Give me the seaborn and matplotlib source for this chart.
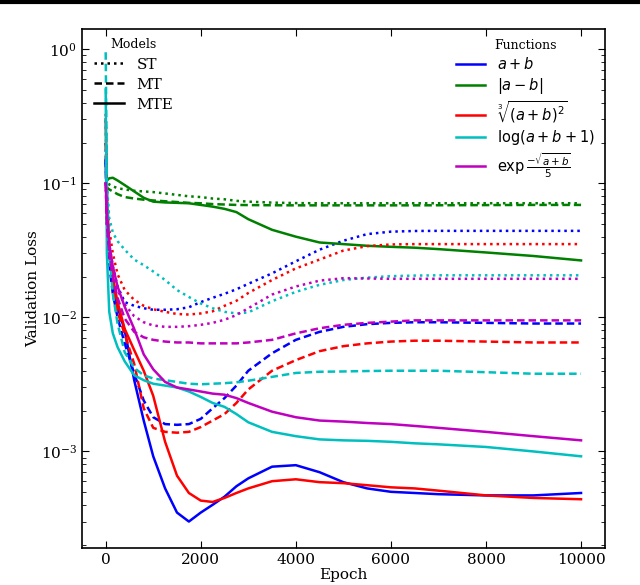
import numpy as np
import pandas as pd
import seaborn as sns
import matplotlib.pyplot as plt
from matplotlib.lines import Line2D
from matplotlib.font_manager import FontProperties

epochs = [0, 25, 75, 150, 250, 400, 600, 800, 1000, 1250, 1500, 1750, 2000, 2250,
          2500, 2750, 3000, 3500, 4000, 4500, 5000, 5500, 6000, 6500, 7000, 8000, 9000, 10000]

# a + b
add_st = [0.2, 0.06, 0.035, 0.024, 0.017, 0.013, 0.0122, 0.0117, 0.0114, 0.0114, 0.0115, 0.0119, 0.0130, 0.0140,
          0.0150, 0.0162, 0.0178, 0.0213, 0.0262, 0.0320, 0.0373, 0.0418, 0.0436, 0.0441, 0.0442, 0.0442, 0.0442, 0.0442]
add_mt = [0.15, 0.05, 0.025, 0.015, 0.010, 0.0064, 0.0038, 0.0024, 0.0018, 0.0016, 0.00158, 0.0016, 0.00175, 0.0021,
          0.0025, 0.0031, 0.0040, 0.0054, 0.0068, 0.0078, 0.0085, 0.0089, 0.0091, 0.0092, 0.0092, 0.0091, 0.0090, 0.0090]
add_mte = [0.15, 0.06, 0.03, 0.018, 0.012, 0.008, 0.0034, 0.0017, 0.00092, 0.00053, 0.00035, 0.0003, 0.00035, 0.0004,
           0.00046, 0.00055, 0.00063, 0.00077, 0.00079, 0.0007, 0.00059, 0.00053, 0.0005, 0.00049, 0.00048, 0.00047, 0.00047, 0.00049]

# |a - b|
sub_st = [0.1, 0.105, 0.098, 0.095, 0.092, 0.090, 0.088, 0.087, 0.086, 0.084, 0.082, 0.080, 0.079, 0.077,
          0.076, 0.074, 0.073, 0.0718, 0.0712, 0.071, 0.071, 0.071, 0.071, 0.071, 0.071, 0.071, 0.071, 0.071]
sub_mt = [0.095, 0.093, 0.090, 0.087, 0.083, 0.079, 0.077, 0.0755, 0.0745, 0.0735, 0.0725, 0.0715, 0.071, 0.070,
          0.0695, 0.069, 0.0688, 0.0686, 0.0685, 0.0685, 0.0685, 0.0685, 0.0685, 0.0685, 0.0686, 0.0688, 0.069, 0.069]
sub_mte = [0.1, 0.105, 0.109, 0.110, 0.105, 0.097, 0.087, 0.078, 0.073, 0.072, 0.0715, 0.071, 0.069, 0.067,
           0.0645, 0.061, 0.054, 0.045, 0.040, 0.0362, 0.0352, 0.0342, 0.0336, 0.0331, 0.0323, 0.0305, 0.0287, 0.0266]

# cube root of (a + b)^2
cbrt_st = [0.33, 0.09, 0.045, 0.030, 0.021, 0.016, 0.0135, 0.0122, 0.0115, 0.0110, 0.0106, 0.0105, 0.0107, 0.0111,
           0.0122, 0.0133, 0.0152, 0.0190, 0.0232, 0.0270, 0.0315, 0.0340, 0.0350, 0.0352, 0.0352, 0.0352, 0.0352, 0.0352]
cbrt_mt = [0.2, 0.06, 0.03, 0.018, 0.011, 0.0075, 0.0045, 0.0021, 0.0015, 0.0014, 0.00138, 0.0014, 0.00152, 0.0017,
           0.0019, 0.0023, 0.0029, 0.0040, 0.0048, 0.0056, 0.0061, 0.0064, 0.0066, 0.0067, 0.0067, 0.0066, 0.0065, 0.0065]
cbrt_mte = [0.3, 0.08, 0.035, 0.020, 0.013, 0.0082, 0.0057, 0.0040, 0.0026, 0.00118, 0.00066, 0.00049, 0.00043, 0.00042,
            0.00045, 0.00049, 0.00053, 0.0006, 0.00062, 0.00059, 0.00058, 0.00056, 0.00054, 0.00053, 0.00051, 0.00047, 0.00045, 0.00044]

# log(a + b + 1)
log_st = [0.3, 0.1, 0.055, 0.043, 0.037, 0.032, 0.027, 0.0245, 0.022, 0.019, 0.016, 0.0142, 0.0127, 0.0117,
          0.0110, 0.0107, 0.0109, 0.0132, 0.0155, 0.0175, 0.0190, 0.0198, 0.0203, 0.0205, 0.0206, 0.0206, 0.0206, 0.0206]
log_mt = [0.95, 0.1, 0.03, 0.015, 0.009, 0.0055, 0.0042, 0.0037, 0.0035, 0.0034, 0.0033, 0.0032, 0.00317, 0.0032,
          0.00323, 0.00328, 0.00337, 0.0036, 0.00385, 0.00393, 0.00395, 0.00398, 0.0040, 0.0040, 0.0040, 0.0039, 0.0038, 0.0038]
log_mte = [0.5, 0.03, 0.011, 0.0076, 0.006, 0.0047, 0.0037, 0.0034, 0.0032, 0.0031, 0.0030, 0.0028, 0.00255, 0.0023,
           0.00215, 0.0019, 0.00165, 0.0014, 0.0013, 0.00123, 0.00121, 0.0012, 0.00118, 0.00115, 0.00113, 0.00108, 0.0010, 0.00092]

# exp(-sqrt(a + b) / 5)
exp_st = [0.1, 0.05, 0.03, 0.022, 0.016, 0.0125, 0.0102, 0.0092, 0.0087, 0.0085, 0.0085, 0.0086, 0.0088, 0.0091,
          0.0096, 0.0104, 0.0117, 0.0148, 0.0170, 0.0188, 0.0196, 0.0195, 0.0194, 0.0194, 0.0194, 0.0194, 0.0194, 0.0194]
exp_mt = [0.1, 0.05, 0.03, 0.020, 0.014, 0.0098, 0.0078, 0.0071, 0.0068, 0.0066, 0.0065, 0.0065, 0.0064, 0.0064,
          0.0064, 0.0064, 0.0065, 0.0068, 0.0076, 0.0083, 0.0088, 0.0091, 0.0093, 0.0095, 0.0095, 0.0095, 0.0095, 0.0095]
exp_mte = [0.1, 0.06, 0.035, 0.024, 0.017, 0.012, 0.0082, 0.0053, 0.0041, 0.0033, 0.0030, 0.0029, 0.0028, 0.0027,
           0.00265, 0.0025, 0.0023, 0.00198, 0.0018, 0.0017, 0.00167, 0.00163, 0.0016, 0.00155, 0.0015, 0.0014, 0.0013, 0.00121]

functions = ['add', 'sub', 'cbrt', 'log', 'exp']
models = ['ST', 'MT', 'MTE']
curves = {
    'add': [add_st, add_mt, add_mte],
    'sub': [sub_st, sub_mt, sub_mte],
    'cbrt': [cbrt_st, cbrt_mt, cbrt_mte],
    'log': [log_st, log_mt, log_mte],
    'exp': [exp_st, exp_mt, exp_mte],
}
func_labels = [r'$a + b$', r'$|a - b|$', r'$\sqrt[3]{(a+b)^2}$', r'$\log(a+b+1)$',
               r'$\exp\frac{-\sqrt{a+b}}{5}$']
colors = {'add': 'blue', 'sub': 'green', 'cbrt': 'red', 'log': 'c', 'exp': 'm'}
dash_styles = {'ST': (1, 1.6), 'MT': (3, 1.6), 'MTE': ''}

rows = []
for f in functions:
    for m, vals in zip(models, curves[f]):
        for e, v in zip(epochs, vals):
            rows.append((e, v, f, m))
df = pd.DataFrame(rows, columns=['epoch', 'loss', 'function', 'model'])

plt.rcParams['font.family'] = ['DejaVu Serif']
plt.rcParams['mathtext.fontset'] = 'dejavuserif'

fig = plt.figure(figsize=(6.4, 5.85), dpi=100)
ax = fig.add_axes([0.128, 0.063, 0.817, 0.887])

sns.lineplot(data=df, x='epoch', y='loss', hue='function', style='model',
             palette=colors, dashes=dash_styles, hue_order=functions, style_order=models,
             linewidth=1.8, legend=False, ax=ax)

ax.set_yscale('log')
ax.set_xlim(-500, 10500)
ax.set_ylim(1.9e-4, 1.41)
ax.set_xticks([0, 2000, 4000, 6000, 8000, 10000])
ax.set_xlabel('Epoch', fontsize=11, labelpad=1)
ax.set_ylabel('Validation Loss', fontsize=11)
ax.yaxis.set_label_coords(-0.08, 0.5)
ax.tick_params(which='both', direction='in', top=True, right=True, labelsize=11)
ax.tick_params(which='major', length=5)
ax.tick_params(which='minor', length=3)
for s in ax.spines.values():
    s.set_linewidth(1.2)

# legend for models
model_handles = [Line2D([], [], color='black', lw=1.8, linestyle=(0, d) if d else '-')
                 for d in dash_styles.values()]
leg1 = ax.legend(model_handles, models, title='Models', loc='upper left', frameon=False,
                 fontsize=11, title_fontsize=9, handlelength=2.0, borderaxespad=0.2,
                 labelspacing=0.4, bbox_to_anchor=(0.005, 1.0))
ax.add_artist(leg1)

# legend for functions
func_handles = [Line2D([], [], color=colors[f], lw=1.8) for f in functions]
ax.legend(func_handles, func_labels, title='Functions', loc='upper right', frameon=False,
          prop=FontProperties(family='DejaVu Sans', size=10.5, math_fontfamily='dejavusans'),
          title_fontsize=9, handlelength=2.0, borderaxespad=0.3, labelspacing=0.25,
          bbox_to_anchor=(1.0, 1.0))

fig.add_artist(Line2D([0, 1], [0.997, 0.997], transform=fig.transFigure, color='black', lw=3))

fig.savefig('out.png', dpi=100)
